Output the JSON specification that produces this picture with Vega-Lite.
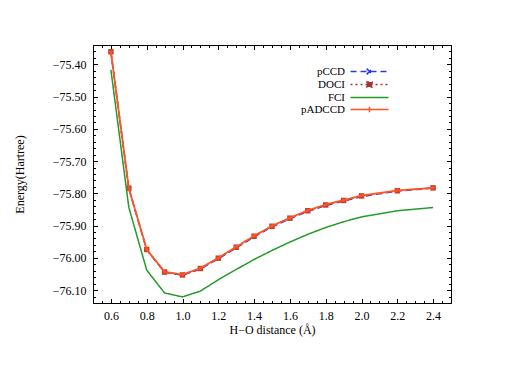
{
  "$schema": "https://vega.github.io/schema/vega-lite/v6.json",
  "width": 358,
  "height": 258,
  "autosize": {"type": "none"},
  "padding": {"left": 93, "top": 45, "right": 66, "bottom": 62},
  "background": "white",
  "config": {
    "view": {"stroke": "black", "strokeWidth": 1},
    "font": "Liberation Serif",
    "axis": {"grid": false, "domain": false, "tickColor": "black", "labelColor": "black", "titleColor": "black", "labelFont": "Liberation Serif", "titleFont": "Liberation Serif", "labelFontSize": 12, "titleFontSize": 12, "titleFontWeight": "normal"}
  },
  "datasets": {
    "energies": [
      {"series": "pCCD", "x": 0.6, "E": -75.361}, {"series": "pCCD", "x": 0.7, "E": -75.785}, {"series": "pCCD", "x": 0.8, "E": -75.975}, {"series": "pCCD", "x": 0.9, "E": -76.045}, {"series": "pCCD", "x": 1.0, "E": -76.054}, {"series": "pCCD", "x": 1.1, "E": -76.035}, {"series": "pCCD", "x": 1.2, "E": -76.003}, {"series": "pCCD", "x": 1.3, "E": -75.969}, {"series": "pCCD", "x": 1.4, "E": -75.935}, {"series": "pCCD", "x": 1.5, "E": -75.904}, {"series": "pCCD", "x": 1.6, "E": -75.879}, {"series": "pCCD", "x": 1.7, "E": -75.856}, {"series": "pCCD", "x": 1.8, "E": -75.838}, {"series": "pCCD", "x": 1.9, "E": -75.824}, {"series": "pCCD", "x": 2.0, "E": -75.810}, {"series": "pCCD", "x": 2.2, "E": -75.793}, {"series": "pCCD", "x": 2.4, "E": -75.784},
      {"series": "DOCI", "x": 0.6, "E": -75.361}, {"series": "DOCI", "x": 0.7, "E": -75.784}, {"series": "DOCI", "x": 0.8, "E": -75.974}, {"series": "DOCI", "x": 0.9, "E": -76.044}, {"series": "DOCI", "x": 1.0, "E": -76.053}, {"series": "DOCI", "x": 1.1, "E": -76.033}, {"series": "DOCI", "x": 1.2, "E": -76.001}, {"series": "DOCI", "x": 1.3, "E": -75.967}, {"series": "DOCI", "x": 1.4, "E": -75.933}, {"series": "DOCI", "x": 1.5, "E": -75.902}, {"series": "DOCI", "x": 1.6, "E": -75.877}, {"series": "DOCI", "x": 1.7, "E": -75.854}, {"series": "DOCI", "x": 1.8, "E": -75.836}, {"series": "DOCI", "x": 1.9, "E": -75.822}, {"series": "DOCI", "x": 2.0, "E": -75.808}, {"series": "DOCI", "x": 2.2, "E": -75.792}, {"series": "DOCI", "x": 2.4, "E": -75.783},
      {"series": "FCI", "x": 0.6, "E": -75.417}, {"series": "FCI", "x": 0.7, "E": -75.843}, {"series": "FCI", "x": 0.8, "E": -76.038}, {"series": "FCI", "x": 0.9, "E": -76.109}, {"series": "FCI", "x": 1.0, "E": -76.121}, {"series": "FCI", "x": 1.1, "E": -76.103}, {"series": "FCI", "x": 1.2, "E": -76.068}, {"series": "FCI", "x": 1.3, "E": -76.036}, {"series": "FCI", "x": 1.4, "E": -76.005}, {"series": "FCI", "x": 1.5, "E": -75.977}, {"series": "FCI", "x": 1.6, "E": -75.951}, {"series": "FCI", "x": 1.7, "E": -75.927}, {"series": "FCI", "x": 1.8, "E": -75.906}, {"series": "FCI", "x": 1.9, "E": -75.888}, {"series": "FCI", "x": 2.0, "E": -75.873}, {"series": "FCI", "x": 2.2, "E": -75.854}, {"series": "FCI", "x": 2.4, "E": -75.844},
      {"series": "pADCCD", "x": 0.6, "E": -75.361}, {"series": "pADCCD", "x": 0.7, "E": -75.784}, {"series": "pADCCD", "x": 0.8, "E": -75.974}, {"series": "pADCCD", "x": 0.9, "E": -76.043}, {"series": "pADCCD", "x": 1.0, "E": -76.052}, {"series": "pADCCD", "x": 1.1, "E": -76.032}, {"series": "pADCCD", "x": 1.2, "E": -76.000}, {"series": "pADCCD", "x": 1.3, "E": -75.966}, {"series": "pADCCD", "x": 1.4, "E": -75.932}, {"series": "pADCCD", "x": 1.5, "E": -75.901}, {"series": "pADCCD", "x": 1.6, "E": -75.876}, {"series": "pADCCD", "x": 1.7, "E": -75.853}, {"series": "pADCCD", "x": 1.8, "E": -75.835}, {"series": "pADCCD", "x": 1.9, "E": -75.821}, {"series": "pADCCD", "x": 2.0, "E": -75.807}, {"series": "pADCCD", "x": 2.2, "E": -75.791}, {"series": "pADCCD", "x": 2.4, "E": -75.783}
    ]
  },
  "data": {"name": "energies"},
  "resolve": {"axis": {"x": "independent", "y": "independent"}},
  "layer": [
    {
      "transform": [{"filter": "datum.series == 'pCCD'"}],
      "mark": {"type": "line", "strokeWidth": 1.5},
      "encoding": {
        "x": {"field": "x", "type": "quantitative", "scale": {"domain": [0.5, 2.5], "nice": false, "zero": false},
              "axis": {"orient": "bottom", "values": [0.6, 0.8, 1.0, 1.2, 1.4, 1.6, 1.8, 2.0, 2.2, 2.4], "format": ".1f", "tickSize": -4.5, "labelPadding": 12, "title": "H−O distance (Å)", "titlePadding": 3}},
        "y": {"field": "E", "type": "quantitative", "scale": {"domain": [-76.14, -75.34], "nice": false, "zero": false},
              "axis": {"orient": "left", "values": [-75.4, -75.5, -75.6, -75.7, -75.8, -75.9, -76.0, -76.1], "format": ".2f", "labelExpr": "replace(datum.label, '-', '−')", "tickSize": -4.5, "labelPadding": 11.5, "title": "Energy(Hartree)", "titlePadding": 26}},
        "color": {"field": "series", "type": "nominal",
                  "scale": {"domain": ["pCCD", "DOCI", "FCI", "pADCCD"], "range": ["#2b3be0", "#a8322d", "#239a2a", "#ff5522"]},
                  "legend": {"orient": "none", "legendX": 271, "legendY": 21, "title": null, "padding": 0, "rowPadding": 0,
                             "labelAlign": "right", "labelOffset": -30, "labelFont": "Liberation Serif", "labelFontSize": 11, "labelColor": "black", "labelLimit": 0,
                             "symbolSize": 90, "symbolStrokeWidth": 1.5, "symbolType": "M-4,0H4",
                             "encode": {"symbols": {"update": {
                               "shape": {"signal": "datum.value == 'pCCD' ? 'M-4,0H4M-0.6,-0.6L0.6,0.6M-0.6,0.6L0.6,-0.6' : datum.value == 'DOCI' ? 'M-4,0H4M-0.55,-0.55H0.55V0.55H-0.55Z' : datum.value == 'pADCCD' ? 'M-4,0H4M0,-0.6V0.6' : 'M-4,0H4'"},
                               "fill": {"signal": "datum.value == 'DOCI' ? '#a8322d' : 'transparent'"}}}}}},
        "strokeDash": {"field": "series", "type": "nominal", "scale": {"domain": ["pCCD", "DOCI", "FCI", "pADCCD"], "range": [[6, 4], [2, 3], [1, 0], [1, 0]]}}
      }
    },
    {
      "transform": [{"filter": "datum.series == 'pCCD'"}],
      "mark": {"type": "point", "shape": "M-1,-1L1,1M-1,1L1,-1", "filled": false, "size": 9, "strokeWidth": 1.3, "color": "#2b3be0", "opacity": 1},
      "encoding": {
        "x": {"field": "x", "type": "quantitative", "axis": {"orient": "top", "values": [0.6, 0.8, 1.0, 1.2, 1.4, 1.6, 1.8, 2.0, 2.2, 2.4], "labels": false, "tickSize": -4.5, "title": null}},
        "y": {"field": "E", "type": "quantitative", "axis": {"orient": "right", "values": [-75.4, -75.5, -75.6, -75.7, -75.8, -75.9, -76.0, -76.1], "labels": false, "tickSize": -4.5, "title": null}}
      }
    },
    {
      "transform": [{"filter": "datum.series == 'DOCI'"}],
      "mark": {"type": "line", "strokeWidth": 1.5},
      "encoding": {
        "x": {"field": "x", "type": "quantitative", "axis": {"orient": "bottom", "values": [0.5, 0.55, 0.6, 0.65, 0.7, 0.75, 0.8, 0.85, 0.9, 0.95, 1.0, 1.05, 1.1, 1.15, 1.2, 1.25, 1.3, 1.35, 1.4, 1.45, 1.5, 1.55, 1.6, 1.65, 1.7, 1.75, 1.8, 1.85, 1.9, 1.95, 2.0, 2.05, 2.1, 2.15, 2.2, 2.25, 2.3, 2.35, 2.4, 2.45, 2.5], "labels": false, "tickSize": -2.5, "title": null}},
        "y": {"field": "E", "type": "quantitative", "axis": {"orient": "left", "values": [-76.14, -76.12, -76.1, -76.08, -76.06, -76.04, -76.02, -76.0, -75.98, -75.96, -75.94, -75.92, -75.9, -75.88, -75.86, -75.84, -75.82, -75.8, -75.78, -75.76, -75.74, -75.72, -75.7, -75.68, -75.66, -75.64, -75.62, -75.6, -75.58, -75.56, -75.54, -75.52, -75.5, -75.48, -75.46, -75.44, -75.42, -75.4, -75.38, -75.36, -75.34], "labels": false, "tickSize": -2.5, "title": null}},
        "color": {"field": "series", "type": "nominal"},
        "strokeDash": {"field": "series", "type": "nominal"}
      }
    },
    {
      "transform": [{"filter": "datum.series == 'DOCI'"}],
      "mark": {"type": "point", "shape": "square", "filled": true, "size": 30, "color": "#c8402a", "opacity": 1},
      "encoding": {
        "x": {"field": "x", "type": "quantitative", "axis": {"orient": "top", "values": [0.5, 0.55, 0.6, 0.65, 0.7, 0.75, 0.8, 0.85, 0.9, 0.95, 1.0, 1.05, 1.1, 1.15, 1.2, 1.25, 1.3, 1.35, 1.4, 1.45, 1.5, 1.55, 1.6, 1.65, 1.7, 1.75, 1.8, 1.85, 1.9, 1.95, 2.0, 2.05, 2.1, 2.15, 2.2, 2.25, 2.3, 2.35, 2.4, 2.45, 2.5], "labels": false, "tickSize": -2.5, "title": null}},
        "y": {"field": "E", "type": "quantitative", "axis": {"orient": "right", "values": [-76.14, -76.12, -76.1, -76.08, -76.06, -76.04, -76.02, -76.0, -75.98, -75.96, -75.94, -75.92, -75.9, -75.88, -75.86, -75.84, -75.82, -75.8, -75.78, -75.76, -75.74, -75.72, -75.7, -75.68, -75.66, -75.64, -75.62, -75.6, -75.58, -75.56, -75.54, -75.52, -75.5, -75.48, -75.46, -75.44, -75.42, -75.4, -75.38, -75.36, -75.34], "labels": false, "tickSize": -2.5, "title": null}}
      }
    },
    {
      "transform": [{"filter": "datum.series == 'FCI'"}],
      "mark": {"type": "line", "strokeWidth": 1.5},
      "encoding": {
        "x": {"field": "x", "type": "quantitative", "axis": null},
        "y": {"field": "E", "type": "quantitative", "axis": null},
        "color": {"field": "series", "type": "nominal"},
        "strokeDash": {"field": "series", "type": "nominal"}
      }
    },
    {
      "transform": [{"filter": "datum.series == 'pADCCD'"}],
      "mark": {"type": "line", "strokeWidth": 1.8},
      "encoding": {
        "x": {"field": "x", "type": "quantitative", "axis": null},
        "y": {"field": "E", "type": "quantitative", "axis": null},
        "color": {"field": "series", "type": "nominal"},
        "strokeDash": {"field": "series", "type": "nominal"}
      }
    },
    {
      "transform": [{"filter": "datum.series == 'pADCCD'"}],
      "mark": {"type": "point", "shape": "M-1,0L1,0M0,-1L0,1", "filled": false, "size": 10, "strokeWidth": 1.3, "color": "#ff5522", "opacity": 1},
      "encoding": {
        "x": {"field": "x", "type": "quantitative", "axis": null},
        "y": {"field": "E", "type": "quantitative", "axis": null}
      }
    }
  ]
}
